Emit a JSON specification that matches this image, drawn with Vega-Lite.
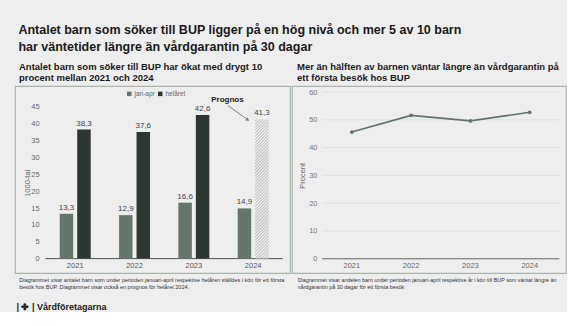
{
  "$schema": "https://vega.github.io/schema/vega-lite/v6.json",
  "background": "#eeeeee",
  "padding": {"left": 14, "top": 24, "right": 0, "bottom": 0},
  "title": {"text": "|  ✤  |  Vårdföretagarna", "orient": "bottom", "anchor": "start", "fontSize": 9, "fontWeight": "bold", "color": "#1a1a1a", "dx": 2, "offset": 12},
  "vconcat": [
    {
      "title": {"text": ["Antalet barn som söker till  BUP ligger på en hög nivå och mer 5 av 10 barn", "har väntetider längre än vårdgarantin på 30 dagar"], "fontSize": 12.5, "lineHeight": 16.7, "dx": 4, "offset": 8},
      "bounds": "flush",
      "spacing": 2,
      "hconcat": [
        {
          "width": 275,
          "height": 187,
          "title": {"text": ["Antalet barn som söker till BUP har ökat med drygt 10", "procent mellan 2021 och 2024"], "fontSize": 9.5, "lineHeight": 11.7, "dx": 4, "offset": 3},
          "data": {"values": [
            {"year": "2021", "period": "jan-apr", "value": 13.3, "prognos": false},
            {"year": "2021", "period": "helåret", "value": 38.3, "prognos": false},
            {"year": "2022", "period": "jan-apr", "value": 12.9, "prognos": false},
            {"year": "2022", "period": "helåret", "value": 37.6, "prognos": false},
            {"year": "2023", "period": "jan-apr", "value": 16.6, "prognos": false},
            {"year": "2023", "period": "helåret", "value": 42.6, "prognos": false},
            {"year": "2024", "period": "jan-apr", "value": 14.9, "prognos": false},
            {"year": "2024", "period": "helåret", "value": 41.3, "prognos": true}
          ]},
          "encoding": {
            "x": {"field": "year", "type": "nominal", "sort": null,
              "scale": {"type": "band", "domain": ["2021", "2022", "2023", "2024"], "paddingInner": 0, "paddingOuter": 0.318, "align": 0.81},
              "axis": {"labelAngle": 0, "offset": -14.4, "labelPadding": 2.5, "labelColor": "#555",
                "title": ["Diagrammet visar antalet barn som under perioden januari-april respektive helåren ställdes i kön för ett första", "besök hos BUP. Diagrammet visar också en prognos för helåret 2024."],
                "titleX": 3.7, "titleY": 19, "titleAlign": "left", "titleBaseline": "top", "titleFontSize": 5.5, "titleLineHeight": 7.2, "titleColor": "#333"}},
            "y": {"field": "value", "type": "quantitative",
              "scale": {"domain": [-4.27, 51.23], "nice": false, "zero": false},
              "axis": {"values": [0, 5, 10, 15, 20, 25, 30, 35, 40, 45], "offset": -26.2, "labelPadding": 2, "title": "1000-tal", "titleX": -13.8, "titleY": 96.8, "titleAlign": "center", "titleBaseline": "middle"}}
          },
          "layer": [
            {
              "data": {"values": [{"v": 0}]},
              "mark": {"type": "rule", "color": "#555555", "strokeWidth": 1},
              "encoding": {
                "y": {"field": "v", "type": "quantitative"},
                "x": {"datum": "2021", "bandPosition": 0},
                "x2": {"datum": "2024", "bandPosition": 1}
              }
            },
            {
              "transform": [{"filter": "!datum.prognos"}],
              "mark": {"type": "bar"},
              "encoding": {
                "xOffset": {"field": "period", "type": "nominal", "scale": {"domain": ["jan-apr", "helåret"], "paddingInner": 0.229, "paddingOuter": 0.81}},
                "y2": {"datum": 0},
                "color": {"field": "period", "type": "nominal",
                  "scale": {"domain": ["jan-apr", "helåret"], "range": ["#65776c", "#2c3732"]},
                  "legend": {"orient": "none", "legendX": 111, "legendY": 4.5, "direction": "horizontal", "title": null, "symbolType": "square", "symbolSize": 20, "symbolStrokeWidth": 0, "labelFontSize": 6.5, "labelColor": "#666", "columnPadding": 2, "labelOffset": 2}}
              }
            },
            {
              "transform": [{"filter": "datum.prognos"}],
              "mark": {"type": "bar", "fill": {"gradient": "linear", "x1": 0, "y1": 0, "x2": 0.1055, "y2": 1.0868, "stops": [
                {"offset": 0, "color": "#f4f4f4"}, {"offset": 0.01, "color": "#bdbdbd"}, {"offset": 0.02, "color": "#f4f4f4"}, {"offset": 0.03, "color": "#bdbdbd"}, {"offset": 0.04, "color": "#f4f4f4"}, {"offset": 0.05, "color": "#bdbdbd"}, {"offset": 0.06, "color": "#f4f4f4"}, {"offset": 0.07, "color": "#bdbdbd"}, {"offset": 0.08, "color": "#f4f4f4"}, {"offset": 0.09, "color": "#bdbdbd"},
                {"offset": 0.10, "color": "#f4f4f4"}, {"offset": 0.11, "color": "#bdbdbd"}, {"offset": 0.12, "color": "#f4f4f4"}, {"offset": 0.13, "color": "#bdbdbd"}, {"offset": 0.14, "color": "#f4f4f4"}, {"offset": 0.15, "color": "#bdbdbd"}, {"offset": 0.16, "color": "#f4f4f4"}, {"offset": 0.17, "color": "#bdbdbd"}, {"offset": 0.18, "color": "#f4f4f4"}, {"offset": 0.19, "color": "#bdbdbd"},
                {"offset": 0.20, "color": "#f4f4f4"}, {"offset": 0.21, "color": "#bdbdbd"}, {"offset": 0.22, "color": "#f4f4f4"}, {"offset": 0.23, "color": "#bdbdbd"}, {"offset": 0.24, "color": "#f4f4f4"}, {"offset": 0.25, "color": "#bdbdbd"}, {"offset": 0.26, "color": "#f4f4f4"}, {"offset": 0.27, "color": "#bdbdbd"}, {"offset": 0.28, "color": "#f4f4f4"}, {"offset": 0.29, "color": "#bdbdbd"},
                {"offset": 0.30, "color": "#f4f4f4"}, {"offset": 0.31, "color": "#bdbdbd"}, {"offset": 0.32, "color": "#f4f4f4"}, {"offset": 0.33, "color": "#bdbdbd"}, {"offset": 0.34, "color": "#f4f4f4"}, {"offset": 0.35, "color": "#bdbdbd"}, {"offset": 0.36, "color": "#f4f4f4"}, {"offset": 0.37, "color": "#bdbdbd"}, {"offset": 0.38, "color": "#f4f4f4"}, {"offset": 0.39, "color": "#bdbdbd"},
                {"offset": 0.40, "color": "#f4f4f4"}, {"offset": 0.41, "color": "#bdbdbd"}, {"offset": 0.42, "color": "#f4f4f4"}, {"offset": 0.43, "color": "#bdbdbd"}, {"offset": 0.44, "color": "#f4f4f4"}, {"offset": 0.45, "color": "#bdbdbd"}, {"offset": 0.46, "color": "#f4f4f4"}, {"offset": 0.47, "color": "#bdbdbd"}, {"offset": 0.48, "color": "#f4f4f4"}, {"offset": 0.49, "color": "#bdbdbd"},
                {"offset": 0.50, "color": "#f4f4f4"}, {"offset": 0.51, "color": "#bdbdbd"}, {"offset": 0.52, "color": "#f4f4f4"}, {"offset": 0.53, "color": "#bdbdbd"}, {"offset": 0.54, "color": "#f4f4f4"}, {"offset": 0.55, "color": "#bdbdbd"}, {"offset": 0.56, "color": "#f4f4f4"}, {"offset": 0.57, "color": "#bdbdbd"}, {"offset": 0.58, "color": "#f4f4f4"}, {"offset": 0.59, "color": "#bdbdbd"},
                {"offset": 0.60, "color": "#f4f4f4"}, {"offset": 0.61, "color": "#bdbdbd"}, {"offset": 0.62, "color": "#f4f4f4"}, {"offset": 0.63, "color": "#bdbdbd"}, {"offset": 0.64, "color": "#f4f4f4"}, {"offset": 0.65, "color": "#bdbdbd"}, {"offset": 0.66, "color": "#f4f4f4"}, {"offset": 0.67, "color": "#bdbdbd"}, {"offset": 0.68, "color": "#f4f4f4"}, {"offset": 0.69, "color": "#bdbdbd"},
                {"offset": 0.70, "color": "#f4f4f4"}, {"offset": 0.71, "color": "#bdbdbd"}, {"offset": 0.72, "color": "#f4f4f4"}, {"offset": 0.73, "color": "#bdbdbd"}, {"offset": 0.74, "color": "#f4f4f4"}, {"offset": 0.75, "color": "#bdbdbd"}, {"offset": 0.76, "color": "#f4f4f4"}, {"offset": 0.77, "color": "#bdbdbd"}, {"offset": 0.78, "color": "#f4f4f4"}, {"offset": 0.79, "color": "#bdbdbd"},
                {"offset": 0.80, "color": "#f4f4f4"}, {"offset": 0.81, "color": "#bdbdbd"}, {"offset": 0.82, "color": "#f4f4f4"}, {"offset": 0.83, "color": "#bdbdbd"}, {"offset": 0.84, "color": "#f4f4f4"}, {"offset": 0.85, "color": "#bdbdbd"}, {"offset": 0.86, "color": "#f4f4f4"}, {"offset": 0.87, "color": "#bdbdbd"}, {"offset": 0.88, "color": "#f4f4f4"}, {"offset": 0.89, "color": "#bdbdbd"},
                {"offset": 0.90, "color": "#f4f4f4"}, {"offset": 0.91, "color": "#bdbdbd"}, {"offset": 0.92, "color": "#f4f4f4"}, {"offset": 0.93, "color": "#bdbdbd"}, {"offset": 0.94, "color": "#f4f4f4"}, {"offset": 0.95, "color": "#bdbdbd"}, {"offset": 0.96, "color": "#f4f4f4"}, {"offset": 0.97, "color": "#bdbdbd"}, {"offset": 0.98, "color": "#f4f4f4"}, {"offset": 0.99, "color": "#bdbdbd"},
                {"offset": 1, "color": "#f4f4f4"}
              ]}},
              "encoding": {
                "xOffset": {"field": "period", "type": "nominal", "scale": {"domain": ["jan-apr", "helåret"], "paddingInner": 0.229, "paddingOuter": 0.81}},
                "y2": {"datum": 0}
              }
            },
            {
              "mark": {"type": "text", "fontSize": 8, "color": "#444", "dy": -6, "baseline": "middle"},
              "encoding": {
                "xOffset": {"field": "period", "type": "nominal", "scale": {"domain": ["jan-apr", "helåret"], "paddingInner": 0.229, "paddingOuter": 0.81}},
                "text": {"field": "value", "type": "quantitative", "format": ".1f"}
              }
            },
            {
              "data": {"values": [{"year": "2024", "pos": 47.2, "label": "Prognos"}]},
              "mark": {"type": "text", "fontSize": 8, "fontWeight": "bold", "color": "#222", "baseline": "middle", "align": "center"},
              "encoding": {
                "x": {"field": "year", "type": "nominal", "bandPosition": 0.066},
                "y": {"field": "pos", "type": "quantitative"},
                "text": {"field": "label", "type": "nominal"}
              }
            },
            {
              "data": {"values": [{"year": "2024", "from": 45.4, "to": 41.2}]},
              "mark": {"type": "rule", "color": "#6f7a74", "strokeWidth": 0.9},
              "encoding": {
                "x": {"field": "year", "type": "nominal", "bandPosition": 0.076},
                "y": {"field": "from", "type": "quantitative"},
                "x2": {"datum": "2024", "bandPosition": 0.41},
                "y2": {"field": "to"}
              }
            },
            {
              "data": {"values": [{"year": "2024", "to": 41.2}]},
              "mark": {"type": "point", "shape": "triangle-right", "filled": true, "size": 16, "color": "#6f7a74", "angle": 35, "opacity": 1},
              "encoding": {
                "x": {"field": "year", "type": "nominal", "bandPosition": 0.41},
                "y": {"field": "to", "type": "quantitative"}
              }
            }
          ]
        },
        {
          "width": 274,
          "height": 187,
          "title": {"text": ["Mer än hälften av barnen väntar längre än vårdgarantin på", "ett första besök hos BUP"], "fontSize": 9.5, "lineHeight": 11.7, "dx": 5, "offset": 3},
          "data": {"values": [
            {"year": "2021", "andel": 45.6},
            {"year": "2022", "andel": 51.6},
            {"year": "2023", "andel": 49.6},
            {"year": "2024", "andel": 52.7}
          ]},
          "encoding": {
            "x": {"field": "year", "type": "nominal", "sort": null,
              "scale": {"type": "band", "domain": ["2021", "2022", "2023", "2024"], "paddingInner": 0, "paddingOuter": 0.31, "align": 0.82},
              "axis": {"labelAngle": 0, "offset": -14.2, "labelPadding": 2.5, "labelColor": "#666",
                "title": ["Diagrammet visar andelen barn under perioden januari-april respektive år  i kön till BUP som väntat längre än", "vårdgarantin på 30 dagar för ett första besök"],
                "titleX": 5.2, "titleY": 19, "titleAlign": "left", "titleBaseline": "top", "titleFontSize": 5.4, "titleLineHeight": 7.2, "titleColor": "#333"}},
            "y": {"field": "andel", "type": "quantitative",
              "scale": {"domain": [-5.11, 62.16], "nice": false, "zero": false},
              "axis": {"values": [0, 10, 20, 30, 40, 50, 60], "offset": -27, "labelPadding": 2, "labelColor": "#777", "title": "Procent", "titleX": -16.3, "titleY": 89.3, "titleAlign": "center", "titleBaseline": "middle"}}
          },
          "layer": [
            {
              "data": {"values": [{"v": 10}, {"v": 20}, {"v": 30}, {"v": 40}, {"v": 50}, {"v": 60}]},
              "mark": {"type": "rule", "color": "#dcdcdc", "strokeWidth": 0.8},
              "encoding": {
                "y": {"field": "v", "type": "quantitative"},
                "x": {"datum": "2021", "bandPosition": 0},
                "x2": {"datum": "2024", "bandPosition": 1}
              }
            },
            {
              "data": {"values": [{"v": 0}]},
              "mark": {"type": "rule", "color": "#666666", "strokeWidth": 1},
              "encoding": {
                "y": {"field": "v", "type": "quantitative"},
                "x": {"datum": "2021", "bandPosition": 0},
                "x2": {"datum": "2024", "bandPosition": 1}
              }
            },
            {
              "mark": {"type": "line", "color": "#5f7568", "strokeWidth": 1.6, "point": {"filled": true, "size": 14, "color": "#5f7568"}}
            }
          ]
        }
      ]
    }
  ],
  "config": {
    "font": "Liberation Sans",
    "view": {"stroke": "#a9b4ad", "strokeWidth": 1.2},
    "axis": {"domain": false, "ticks": false, "tickSize": 0, "grid": false, "labelFont": "Liberation Sans", "labelFontSize": 7.5, "labelColor": "#666", "titleFont": "Liberation Sans", "titleFontWeight": "normal", "titleFontSize": 7.5, "titleColor": "#666"},
    "legend": {"labelFont": "Liberation Sans"},
    "title": {"anchor": "start", "color": "#1a1a1a", "font": "Liberation Sans", "fontWeight": "bold"},
    "locale": {"number": {"decimal": ",", "thousands": " ", "grouping": [3], "currency": ["", " kr"]}}
  }
}
